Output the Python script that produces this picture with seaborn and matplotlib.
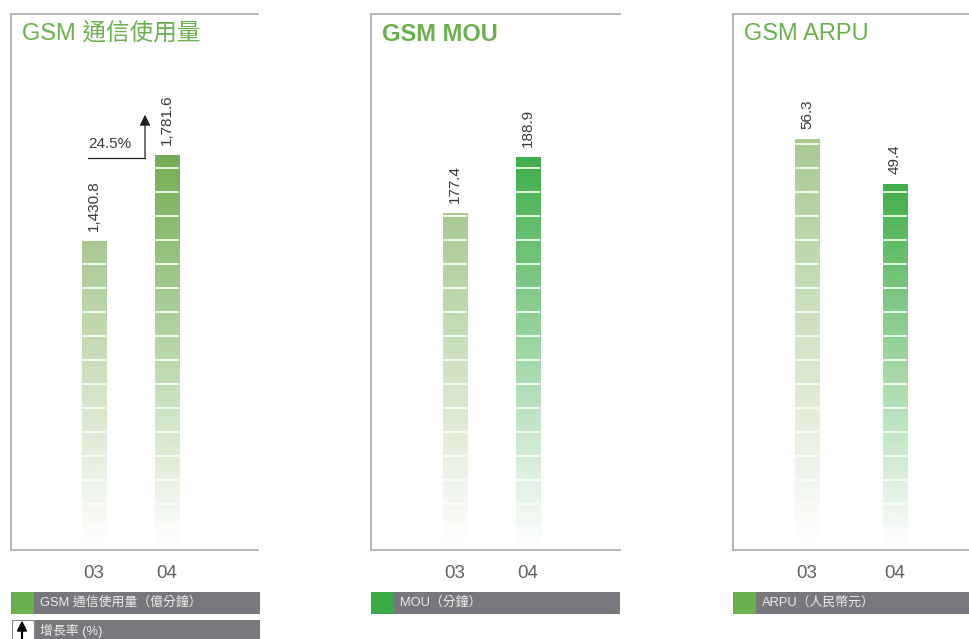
import numpy as np
import matplotlib
matplotlib.use('Agg')
import matplotlib.pyplot as plt
import seaborn as sns
from matplotlib.colors import to_rgb
from matplotlib.patches import Rectangle, FancyArrow

# data
years = ['03', '04']
traffic = [1430.8, 1781.6]      # 億分鐘
mou = [177.4, 188.9]            # 分鐘
arpu = [56.3, 49.4]             # 人民幣元
growth_label = '24.5%'

titles = ['GSM 通信使用量', 'GSM MOU', 'GSM ARPU']
legend_labels = ['GSM 通信使用量（億分鐘）', 'MOU（分鐘）', 'ARPU（人民幣元）']
growth_legend = '增長率 (%)'

bar_colors = [['#a8c990', '#72ad52'], ['#a8c990', '#3fae4a'], ['#a8c990', '#42ae49']]
legend_colors = ['#6ab04c', '#3aaa48', '#6ab04c']

sns.set_style('white')
plt.rcParams['font.family'] = ['Liberation Sans', 'Noto Sans CJK TC', 'DejaVu Sans']

W, H = 969, 639
fig = plt.figure(figsize=(W / 100, H / 100), dpi=100)

# panel layout in pixels: (left, width), limits calibrated to reference
panels = [
    dict(vals=traffic, left=11, width=247, xlim=(-1.137, 2.247), ylim=(170.6, 2356.6), bw=0.33,
         fmt=lambda v: f'{v:,.1f}', weight='normal'),
    dict(vals=mou, left=371, width=249, xlim=(-1.15, 2.26), ylim=(108.2, 218.3), bw=0.33,
         fmt=lambda v: f'{v:.1f}', weight='bold'),
    dict(vals=arpu, left=733, width=250, xlim=(-0.841, 1.999), ylim=(-6.7, 75.5), bw=0.273,
         fmt=lambda v: f'{v:.1f}', weight='normal'),
]
ax_top, ax_bot = 14, 550
spine_col = '#a7a9ac'
axes = []

for i, p in enumerate(panels):
    ax = fig.add_axes([p['left'] / W, 1 - ax_bot / H, p['width'] / W, (ax_bot - ax_top) / H])
    axes.append(ax)
    sns.barplot(x=years, y=p['vals'], hue=years, palette=bar_colors[i], width=p['bw'],
                saturation=1, legend=False, ax=ax)
    ax.set_xlim(*p['xlim'])
    ax.set_ylim(*p['ylim'])
    y0, y1 = p['ylim']
    span = y1 - y0

    for patch, v in zip(ax.patches, p['vals']):
        x0 = patch.get_x()
        w = patch.get_width()
        top = patch.get_y() + patch.get_height()
        rgb = np.array(to_rgb(patch.get_facecolor()))
        patch.set_visible(False)
        # vertical fade to white
        n = 256
        img = np.ones((n, 2, 4))
        img[:, :, :3] = rgb
        img[:, :, 3] = np.linspace(1, 0, n)[:, None]
        bottom = y0 + 0.006 * span
        ax.imshow(img, extent=(x0, x0 + w, bottom, top), aspect='auto',
                  interpolation='bilinear', zorder=2)
        # white separators every 24 px
        frac = (22 + 24 * np.arange(30)) / (ax_bot - ax_top)
        ys = y0 + frac * span
        ys = ys[ys < top - 0.003 * span]
        ax.hlines(ys, x0, x0 + w, colors='white', lw=1.2, zorder=3)
        ax.annotate(p['fmt'](v), (x0 + w / 2, top), xytext=(0, 7), textcoords='offset points',
                    rotation=90, ha='center', va='bottom', fontsize=11, color='#3a3a3a')

    ax.text(11 / p['width'], 1 - 9 / (ax_bot - ax_top), titles[i], transform=ax.transAxes,
            ha='left', va='top', fontsize=17, color='#6ab04c', fontweight=p['weight'])

    for s in ['left', 'top', 'bottom']:
        ax.spines[s].set_color(spine_col)
        ax.spines[s].set_linewidth(1.2)
    ax.spines['right'].set_visible(False)
    ax.set_yticks([])
    ax.set_xlabel('')
    ax.tick_params(axis='x', length=0, pad=11, labelsize=13.5, labelcolor='#606164')

# growth arrow in first panel
ax = axes[0]
y0, y1 = panels[0]['ylim']
span = y1 - y0
elbow_y = traffic[1] - 0.005 * span
tip_y = traffic[1] + 0.075 * span
x_left, x_right = -0.082, 0.699
ax.plot([x_left, x_right], [elbow_y, elbow_y], color='#222222', lw=0.9, zorder=4)
ax.annotate('', xy=(x_right, tip_y), xytext=(x_right, elbow_y),
            arrowprops=dict(arrowstyle='-|>', color='#222222', lw=0.9, mutation_scale=16,
                            shrinkA=0, shrinkB=0))
ax.text(x_left, elbow_y + 0.012 * span, growth_label, ha='left', va='bottom',
        fontsize=11, color='#3a3a3a')

# legend strips
gray = '#77787b'
for i, p in enumerate(panels):
    lx = p['left']
    lw = 249 if i < 2 else 260
    fig.patches.append(Rectangle((lx / W, 1 - 614 / H), lw / W, 22 / H, transform=fig.transFigure,
                                 facecolor=gray, edgecolor='none'))
    fig.patches.append(Rectangle((lx / W, 1 - 614 / H), 23 / W, 22 / H, transform=fig.transFigure,
                                 facecolor=legend_colors[i], edgecolor='none'))
    fig.text((lx + 29) / W, 1 - 603 / H, legend_labels[i], ha='left', va='center',
             fontsize=9.3, color='#ebebeb')

# growth legend row
fig.patches.append(Rectangle((34 / W, 1 - 645 / H), 226 / W, 25 / H, transform=fig.transFigure,
                             facecolor=gray, edgecolor='none'))
fig.patches.append(Rectangle((11.5 / W, 1 - 645 / H), 22 / W, 25 / H, transform=fig.transFigure,
                             facecolor='white', edgecolor='#8a8a8a', lw=0.8))
fig.patches.append(FancyArrow(22 / W, 1 - 645 / H, 0, 23 / H, width=0.0008,
                              head_width=9 / W, head_length=9 / H, length_includes_head=True,
                              transform=fig.transFigure, color='black'))
fig.text(40 / W, 1 - 631 / H, growth_legend, ha='left', va='center', fontsize=9.3, color='#ebebeb')

fig.savefig('out.png', dpi=100)
